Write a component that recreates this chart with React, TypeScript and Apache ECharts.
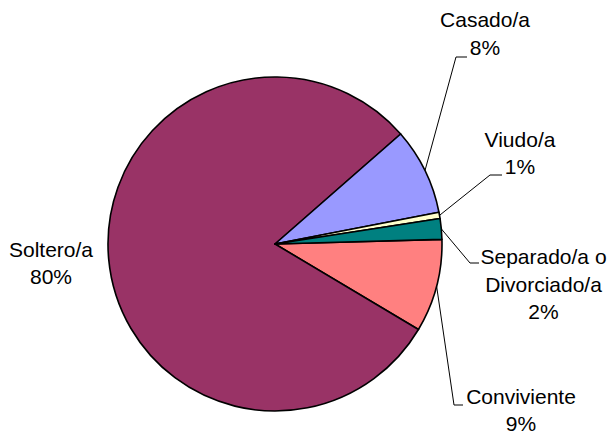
import React, { useEffect, useRef } from "react";
import * as echarts from "echarts";

const categories = ["Conviviente", "Soltero/a", "Casado/a", "Viudo/a", "Separado/a o\nDivorciado/a"];
const values = [9.0, 80.0, 8.4, 0.6, 2.0];
const colors = ["#FF8080", "#993366", "#9999FF", "#FFFFCC", "#008080"];

// label block centres and leader bend points (layout only)
const labelPos: Record<number, { x: number; y: number; bend?: number[]; end?: number[] }> = {
  0: { x: 521, y: 410, bend: [454, 405], end: [463, 405] },
  1: { x: 51, y: 263 },
  2: { x: 485, y: 33.5, bend: [456, 57], end: [467, 57] },
  3: { x: 520, y: 153, bend: [490, 175], end: [502, 175] },
  4: { x: 543.5, y: 284, bend: [470, 263], end: [479, 263] },
};

export default function App() {
  const ref = useRef<HTMLDivElement>(null);
  useEffect(() => {
    if (!ref.current) return;
    const chart = echarts.init(ref.current, null, { renderer: "svg" });
    chart.setOption({
      animation: false,
      backgroundColor: "#ffffff",
      series: [
        {
          type: "pie",
          center: [275, 244],
          radius: 167,
          startAngle: 1.6,
          clockwise: true,
          silent: true,
          percentPrecision: 0,
          emphasis: { disabled: true },
          itemStyle: { borderColor: "#000000", borderWidth: 1.6 },
          label: {
            show: true,
            position: "outside",
            formatter: "{b}\n{d}%",
            color: "#000000",
            fontFamily: "'Liberation Sans', Arial, sans-serif",
            fontSize: 21,
            lineHeight: 27.5,
            align: "center",
            overflow: "none",
          },
          labelLine: {
            show: true,
            length: 20,
            length2: 10,
            smooth: false,
            lineStyle: { color: "#000000", width: 1 },
          },
          labelLayout: (params: any) => {
            const p = labelPos[params.dataIndex];
            const out: any = { x: p.x, y: p.y, align: "center", verticalAlign: "middle" };
            if (p.bend && params.labelLinePoints && params.labelLinePoints[0]) {
              out.labelLinePoints = [params.labelLinePoints[0], p.bend, p.end];
            }
            return out;
          },
          data: categories.map((name, i) => ({
            name,
            value: values[i],
            itemStyle: { color: colors[i] },
            labelLine: { show: i !== 1 },
          })),
        },
      ],
    });
    return () => chart.dispose();
  }, []);
  return (
    <div
      ref={ref}
      style={{ position: "absolute", left: 0, top: 0, width: 616, height: 435 }}
    />
  );
}
